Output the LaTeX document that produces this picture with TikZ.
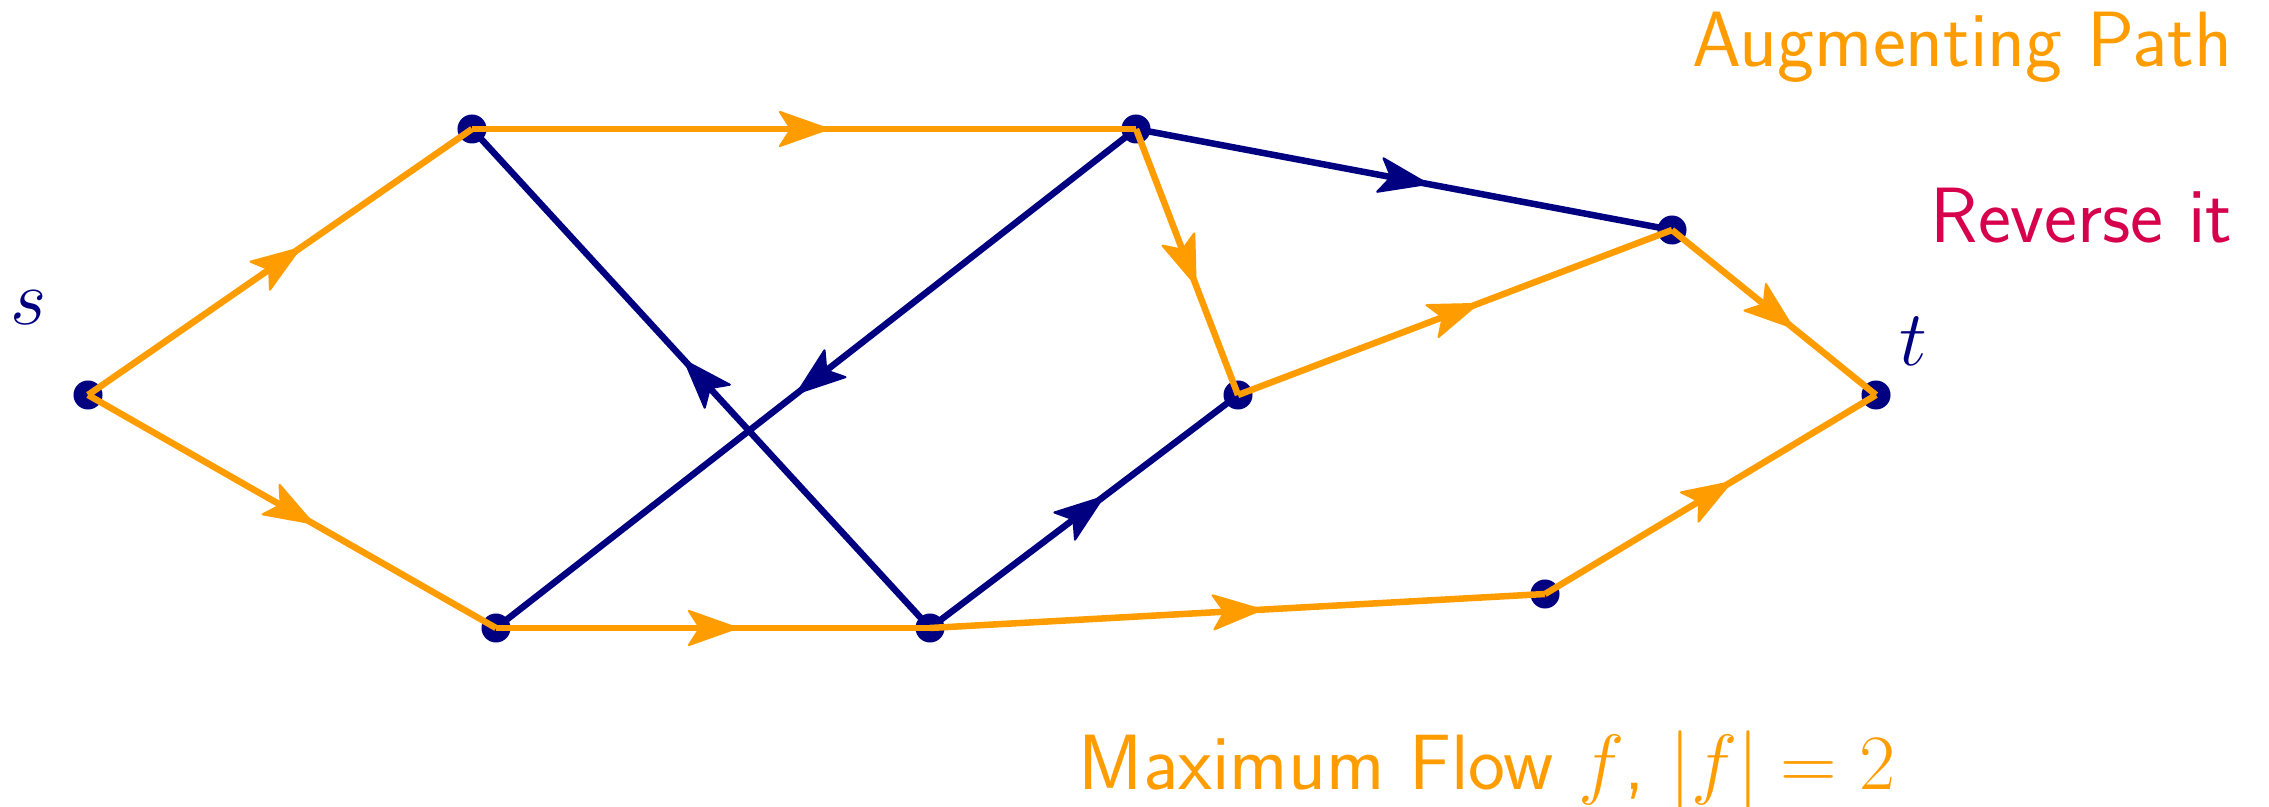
\RequirePackage{fix-cm}
\documentclass[tikz,border=0pt]{standalone}
\usepackage{fontspec}
\usetikzlibrary{decorations.markings}
\definecolor{flow}{RGB}{255,157,0}
\definecolor{res}{RGB}{0,0,128}
\definecolor{rev}{RGB}{214,0,76}
\tikzset{
  midarrow/.style={postaction={decorate},decoration={markings,
    mark=at position 0.5 with {\filldraw[fill=#1,draw=#1,line width=0.6pt,line join=round]
      (0.24cm,0) -- (-0.24cm,0.17cm) -- (-0.13cm,0) -- (-0.24cm,-0.17cm) -- cycle;}}},
  flowedge/.style={draw=flow,line width=0.065cm,line join=miter,midarrow=flow},
  resedge/.style={draw=res,line width=0.065cm,midarrow=res},
  vertex/.style={fill=res},
  lbl/.style={font=\fontsize{22.3}{26}\selectfont\sffamily,inner sep=0pt},
  mlbl/.style={font=\fontsize{22.3}{26}\selectfont,inner sep=0pt,text=res}
}
\begin{document}
\begin{tikzpicture}[x=0.01cm,y=-0.01cm]
\useasboundingbox (0,0) rectangle (2269,807);
\coordinate (s) at (88,395);
\coordinate (A) at (472,129);
\coordinate (B) at (1136,129);
\coordinate (C) at (1672,230);
\coordinate (t) at (1876,395);
\coordinate (D) at (1238,395);
\coordinate (E) at (496,628);
\coordinate (F) at (930,628);
\coordinate (G) at (1545,594);
\foreach \v in {s,A,B,C,t,D,E,F,G} \fill[vertex] (\v) circle (0.145cm);
% residual edges
\draw[resedge] (F) -- (A);
\draw[resedge] (B) -- (E);
\draw[resedge] (F) -- (D);
\draw[resedge] (B) -- (C);
% flow edges
\draw[flowedge] (s) -- (A);
\draw[flowedge] (s) -- (E);
\draw[flowedge] (A) -- (B);
\draw[flowedge] (B) -- (D);
\draw[flowedge] (D) -- (C);
\draw[flowedge] (C) -- (t);
\draw[flowedge] (E) -- (F);
\draw[flowedge] (F) -- (G);
\draw[flowedge] (G) -- (t);
% labels
\node[mlbl] (slbl) at (29,308) {$s$};
\node[mlbl] (tlbl) at (1913,341) {$t$};
\node[lbl,text=flow,anchor=base east] (aug) at (2233,67) {Augmenting Path};
\node[lbl,text=rev,anchor=base east] (revl) at (2233,243) {Reverse it};
\node[lbl,text=flow,anchor=base west] (maxf) at (1078,790) {Maximum Flow $f$, $|f| = 2$};
\end{tikzpicture}
\end{document}
